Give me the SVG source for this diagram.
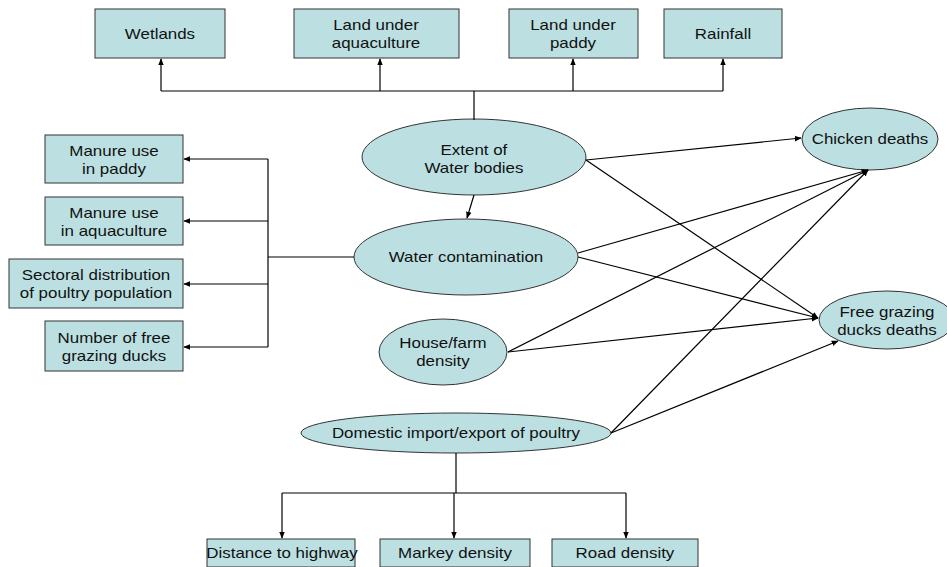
<svg xmlns="http://www.w3.org/2000/svg" width="947" height="567" viewBox="0 0 947 567">
<style>
.n{fill:#bce0e2;stroke:#333;stroke-width:1}
.t{font-family:"Liberation Sans",Arial,sans-serif;font-size:14px;fill:#111;text-anchor:middle;transform-box:fill-box;transform-origin:center;transform:scaleX(1.21)}
.c{fill:none;stroke:#000;stroke-width:1.2}
</style>
<defs>
<marker id="a" viewBox="0 0 10 10" refX="9" refY="5" markerWidth="7" markerHeight="7" orient="auto" markerUnits="userSpaceOnUse"><path d="M0,1 L10,5 L0,9 z" fill="#000"/></marker>
</defs>
<rect width="947" height="567" fill="#fff"/>
<g id="wetlands"><rect class="n" x="95" y="9" width="130" height="49"/><text class="t" x="160" y="39">Wetlands</text></g>
<g id="aquaculture"><rect class="n" x="294" y="9" width="165" height="49"/><text class="t" x="376" y="30">Land under</text><text class="t" x="376" y="48">aquaculture</text></g>
<g id="paddy"><rect class="n" x="509" y="9" width="129" height="49"/><text class="t" x="573" y="30">Land under</text><text class="t" x="573" y="48">paddy</text></g>
<g id="rainfall"><rect class="n" x="664" y="9" width="118" height="49"/><text class="t" x="723" y="39">Rainfall</text></g>
<g id="manure-paddy"><rect class="n" x="45" y="135" width="138" height="48"/><text class="t" x="114" y="156">Manure use</text><text class="t" x="114" y="174">in paddy</text></g>
<g id="manure-aqua"><rect class="n" x="45" y="197" width="138" height="48"/><text class="t" x="114" y="218">Manure use</text><text class="t" x="114" y="236">in aquaculture</text></g>
<g id="sectoral"><rect class="n" x="9" y="259" width="174" height="49"/><text class="t" x="96" y="280">Sectoral distribution</text><text class="t" x="96" y="298">of poultry population</text></g>
<g id="ducks-num"><rect class="n" x="45" y="321" width="138" height="50"/><text class="t" x="114" y="343">Number of free</text><text class="t" x="114" y="361">grazing ducks</text></g>
<g id="extent"><ellipse class="n" cx="474" cy="157" rx="112" ry="38"/><text class="t" x="474" y="155">Extent of</text><text class="t" x="474" y="173">Water bodies</text></g>
<g id="contamination"><ellipse class="n" cx="466" cy="257" rx="112" ry="38"/><text class="t" x="466" y="262">Water contamination</text></g>
<g id="house"><ellipse class="n" cx="443" cy="352" rx="64" ry="33"/><text class="t" x="443" y="348">House/farm</text><text class="t" x="443" y="366">density</text></g>
<g id="domestic"><ellipse class="n" cx="456" cy="433" rx="155" ry="20"/><text class="t" x="456" y="438">Domestic import/export of poultry</text></g>
<g id="chicken"><ellipse class="n" cx="870" cy="139" rx="68" ry="31"/><text class="t" x="870" y="144">Chicken deaths</text></g>
<g id="duck-deaths"><ellipse class="n" cx="887" cy="320" rx="68" ry="29"/><text class="t" x="887" y="317">Free grazing</text><text class="t" x="887" y="335">ducks deaths</text></g>
<g id="highway"><rect class="n" x="207" y="539" width="148" height="28"/><text class="t" x="282" y="558">Distance to highway</text></g>
<g id="markey"><rect class="n" x="380" y="539" width="150" height="28"/><text class="t" x="455" y="558">Markey density</text></g>
<g id="road"><rect class="n" x="552" y="539" width="146" height="28"/><text class="t" x="625" y="558">Road density</text></g>
<g id="connectors">
<path class="c" d="M474,120 V91"/>
<path class="c" d="M161,91 H723"/>
<path class="c" d="M161,91 V59" marker-end="url(#a)"/>
<path class="c" d="M380,91 V59" marker-end="url(#a)"/>
<path class="c" d="M573,91 V59" marker-end="url(#a)"/>
<path class="c" d="M723,91 V59" marker-end="url(#a)"/>
<path class="c" d="M354,257 H268"/>
<path class="c" d="M268,159 V347"/>
<path class="c" d="M268,159 H184" marker-end="url(#a)"/>
<path class="c" d="M268,221 H184" marker-end="url(#a)"/>
<path class="c" d="M268,284 H184" marker-end="url(#a)"/>
<path class="c" d="M268,347 H184" marker-end="url(#a)"/>
<path class="c" d="M474,195 L467,218" marker-end="url(#a)"/>
<path class="c" d="M586,160 L801,138" marker-end="url(#a)"/>
<path class="c" d="M586,160 L818,318" marker-end="url(#a)"/>
<path class="c" d="M578,253 L868,170" marker-end="url(#a)"/>
<path class="c" d="M578,257 L818,318" marker-end="url(#a)"/>
<path class="c" d="M508,352 L868,170" marker-end="url(#a)"/>
<path class="c" d="M508,352 L818,318" marker-end="url(#a)"/>
<path class="c" d="M611,433 L868,170" marker-end="url(#a)"/>
<path class="c" d="M611,433 L838,341" marker-end="url(#a)"/>
<path class="c" d="M456,453 V493"/>
<path class="c" d="M282,493 H626"/>
<path class="c" d="M282,493 V538" marker-end="url(#a)"/>
<path class="c" d="M454,493 V538" marker-end="url(#a)"/>
<path class="c" d="M626,493 V538" marker-end="url(#a)"/>
</g>
</svg>
